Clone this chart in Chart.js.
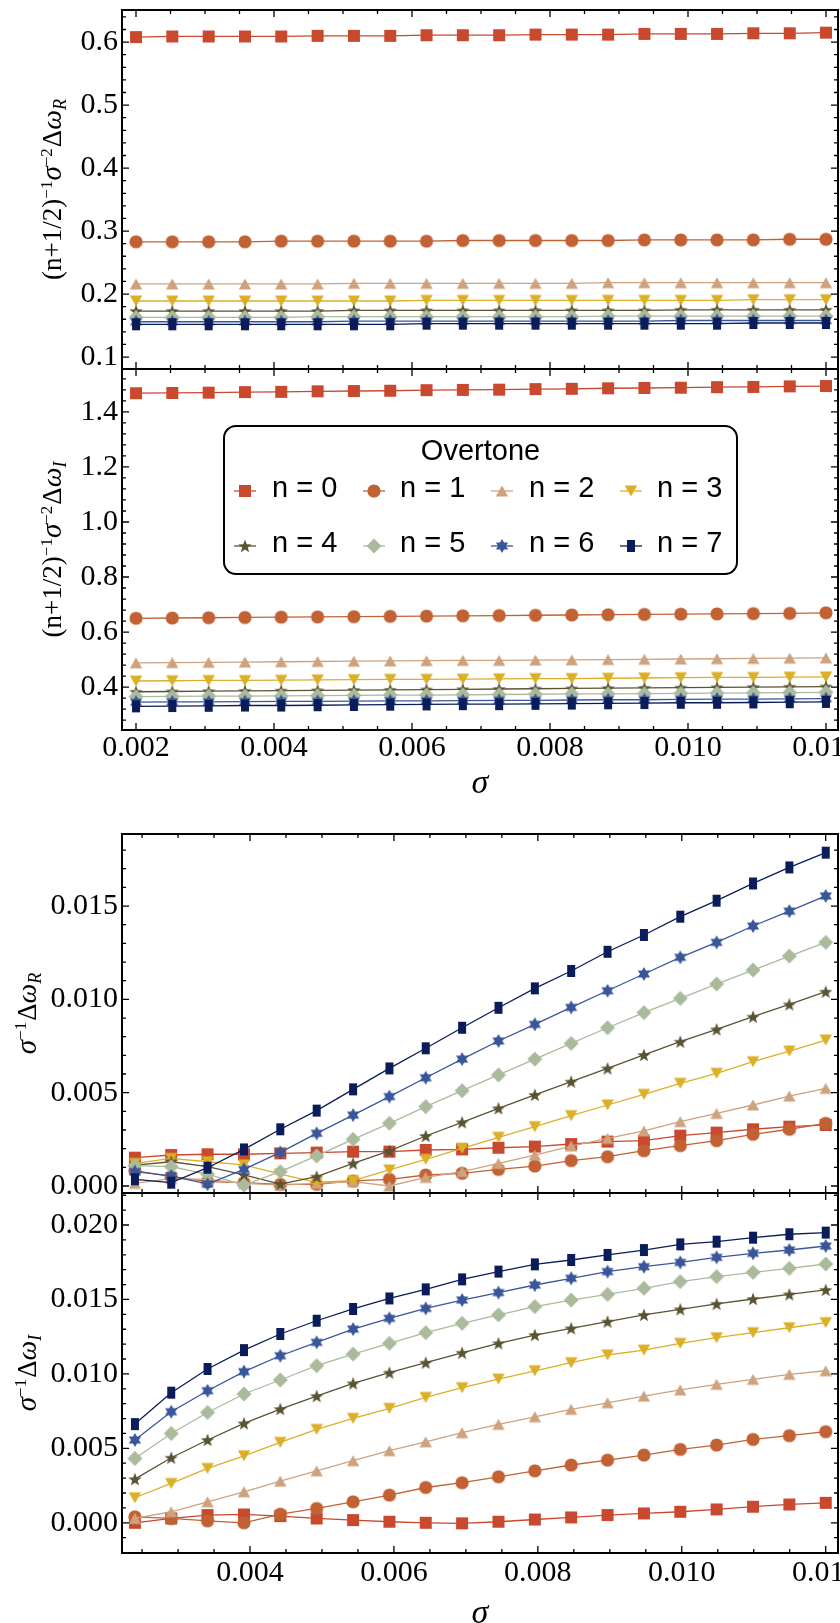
<!DOCTYPE html>
<html>
<head>
<meta charset="utf-8">
<script src="https://cdn.jsdelivr.net/npm/chart.js@4/dist/chart.umd.min.js"></script>
<style>
  html, body { margin: 0; padding: 0; background: #fff; }
  #page { position: relative; width: 840px; height: 1623px; overflow: hidden; background: #fff; }
  #page canvas { position: absolute; left: 0; }
</style>
</head>
<body>
<div id="page">
  <canvas id="c1" width="870" height="414" style="top:-20px"></canvas>
  <canvas id="c2" width="870" height="469" style="top:339px"></canvas>
  <canvas id="c3" width="870" height="414" style="top:804px"></canvas>
  <canvas id="c4" width="870" height="475" style="top:1163px"></canvas>
</div>
<script>
// overtone numbers
const OVERTONES = [0, 1, 2, 3, 4, 5, 6, 7];

// sigma grid of the upper block and of the lower block
const SIGMA_A = [0.002, 0.002526, 0.003053, 0.003579, 0.004105, 0.004632, 0.005158, 0.005684, 0.006211, 0.006737,
                 0.007263, 0.007789, 0.008316, 0.008842, 0.009368, 0.009895, 0.010421, 0.010947, 0.011474, 0.012];
const SIGMA_B = [0.0024, 0.002905, 0.00341, 0.003916, 0.004421, 0.004926, 0.005432, 0.005937, 0.006442, 0.006947,
                 0.007453, 0.007958, 0.008463, 0.008968, 0.009474, 0.009979, 0.010484, 0.01099, 0.011495, 0.012];

// (n+1/2)^-1 sigma^-2 dw_R, one row per overtone
const RE_NORM = [
  [0.608,0.609,0.609,0.609,0.609,0.610,0.610,0.610,0.611,0.611,0.611,0.612,0.612,0.612,0.613,0.613,0.613,0.614,0.614,0.615],
  [0.283,0.283,0.283,0.283,0.284,0.284,0.284,0.284,0.284,0.285,0.285,0.285,0.285,0.285,0.286,0.286,0.286,0.286,0.287,0.287],
  [0.216,0.216,0.216,0.216,0.216,0.216,0.217,0.217,0.217,0.217,0.217,0.217,0.217,0.218,0.218,0.218,0.218,0.218,0.218,0.218],
  [0.189,0.189,0.189,0.189,0.189,0.189,0.189,0.189,0.190,0.190,0.190,0.190,0.190,0.190,0.190,0.190,0.190,0.191,0.191,0.191],
  [0.173,0.173,0.173,0.173,0.173,0.173,0.174,0.174,0.174,0.174,0.174,0.174,0.174,0.174,0.174,0.175,0.175,0.175,0.175,0.175],
  [0.163,0.163,0.163,0.163,0.163,0.164,0.164,0.164,0.164,0.164,0.164,0.164,0.164,0.165,0.165,0.165,0.165,0.165,0.165,0.165],
  [0.156,0.156,0.156,0.156,0.156,0.156,0.157,0.157,0.157,0.157,0.157,0.157,0.157,0.157,0.157,0.158,0.158,0.158,0.158,0.158],
  [0.152,0.152,0.152,0.152,0.152,0.152,0.152,0.152,0.153,0.153,0.153,0.153,0.153,0.153,0.153,0.153,0.153,0.154,0.154,0.154]
];

// (n+1/2)^-1 sigma^-2 dw_I
const IM_NORM = [
  [1.468,1.469,1.470,1.472,1.473,1.475,1.476,1.477,1.479,1.480,1.481,1.483,1.484,1.486,1.487,1.488,1.490,1.491,1.493,1.494],
  [0.650,0.651,0.652,0.653,0.654,0.655,0.656,0.657,0.658,0.659,0.660,0.661,0.662,0.663,0.664,0.665,0.666,0.667,0.668,0.670],
  [0.488,0.489,0.490,0.491,0.492,0.493,0.494,0.495,0.496,0.497,0.497,0.498,0.499,0.500,0.501,0.502,0.503,0.504,0.505,0.506],
  [0.422,0.423,0.424,0.424,0.425,0.426,0.427,0.428,0.428,0.429,0.430,0.431,0.431,0.432,0.433,0.434,0.435,0.435,0.436,0.437],
  [0.383,0.384,0.385,0.386,0.387,0.388,0.389,0.390,0.391,0.392,0.393,0.394,0.395,0.396,0.397,0.398,0.399,0.400,0.401,0.402],
  [0.365,0.366,0.367,0.367,0.368,0.369,0.370,0.371,0.371,0.372,0.373,0.374,0.375,0.375,0.376,0.377,0.378,0.379,0.380,0.381],
  [0.345,0.346,0.346,0.347,0.348,0.348,0.349,0.350,0.350,0.351,0.352,0.352,0.353,0.354,0.354,0.355,0.356,0.356,0.357,0.358],
  [0.330,0.331,0.332,0.333,0.333,0.334,0.335,0.336,0.337,0.338,0.338,0.339,0.340,0.341,0.342,0.343,0.343,0.344,0.345,0.346]
];

// sigma^-1 dw_R
const RE_LIN = [
  [0.00152,0.00166,0.00170,0.00170,0.00175,0.00179,0.00184,0.00184,0.00193,0.00196,0.00205,0.00211,0.00225,0.00238,0.00243,0.00270,0.00286,0.00304,0.00318,0.00327],
  [0.00082,0.00050,0.00023,0.00018,0.00009,0.00009,0.00027,0.00036,0.00059,0.00068,0.00089,0.00107,0.00136,0.00157,0.00189,0.00216,0.00243,0.00277,0.00304,0.00336],
  [0.00014,0.00040,0.00036,0.00014,0.00005,0.00014,0.00023,0.00000,0.00046,0.00077,0.00121,0.00166,0.00214,0.00255,0.00295,0.00345,0.00389,0.00434,0.00482,0.00523],
  [0.00121,0.00148,0.00130,0.00113,0.00064,0.00020,0.00029,0.00086,0.00143,0.00202,0.00261,0.00318,0.00377,0.00434,0.00491,0.00550,0.00604,0.00666,0.00723,0.00782],
  [0.00112,0.00130,0.00104,0.00059,0.00010,0.00050,0.00121,0.00188,0.00268,0.00341,0.00416,0.00488,0.00559,0.00630,0.00702,0.00773,0.00839,0.00907,0.00973,0.01041],
  [0.00109,0.00104,0.00063,0.00005,0.00077,0.00161,0.00250,0.00336,0.00425,0.00511,0.00595,0.00680,0.00764,0.00848,0.00929,0.01005,0.01082,0.01157,0.01232,0.01305],
  [0.00077,0.00054,0.00010,0.00089,0.00180,0.00282,0.00380,0.00479,0.00580,0.00680,0.00777,0.00866,0.00957,0.01046,0.01136,0.01225,0.01305,0.01393,0.01473,0.01554],
  [0.00036,0.00018,0.00098,0.00196,0.00304,0.00404,0.00518,0.00630,0.00738,0.00848,0.00955,0.01059,0.01152,0.01255,0.01345,0.01443,0.01529,0.01621,0.01707,0.01786]
];

// sigma^-1 dw_I
const IM_LIN = [
  [0.00000,0.00029,0.00052,0.00056,0.00045,0.00029,0.00018,0.00007,0.00000,-0.00004,0.00007,0.00022,0.00036,0.00052,0.00063,0.00074,0.00090,0.00108,0.00123,0.00134],
  [0.00040,0.00029,0.00013,0.00000,0.00058,0.00096,0.00141,0.00186,0.00237,0.00269,0.00309,0.00349,0.00388,0.00421,0.00455,0.00493,0.00522,0.00560,0.00585,0.00612],
  [0.00029,0.00074,0.00141,0.00208,0.00280,0.00349,0.00417,0.00484,0.00544,0.00605,0.00661,0.00712,0.00762,0.00806,0.00851,0.00892,0.00930,0.00963,0.00997,0.01021],
  [0.00168,0.00264,0.00365,0.00450,0.00540,0.00627,0.00701,0.00768,0.00842,0.00907,0.00965,0.01021,0.01075,0.01127,0.01160,0.01205,0.01243,0.01277,0.01310,0.01344],
  [0.00293,0.00437,0.00556,0.00668,0.00764,0.00851,0.00936,0.01008,0.01075,0.01142,0.01205,0.01261,0.01306,0.01351,0.01396,0.01434,0.01470,0.01503,0.01534,0.01564],
  [0.00432,0.00600,0.00741,0.00865,0.00959,0.01055,0.01133,0.01205,0.01277,0.01340,0.01396,0.01452,0.01496,0.01534,0.01575,0.01620,0.01653,0.01682,0.01709,0.01738],
  [0.00556,0.00746,0.00887,0.01015,0.01122,0.01212,0.01301,0.01373,0.01440,0.01496,0.01546,0.01597,0.01642,0.01687,0.01720,0.01749,0.01783,0.01810,0.01832,0.01859],
  [0.00663,0.00874,0.01033,0.01160,0.01268,0.01357,0.01436,0.01507,0.01568,0.01635,0.01687,0.01736,0.01765,0.01799,0.01832,0.01870,0.01888,0.01915,0.01938,0.01949]
];

// tick labels
const X_TICKS_A = [0.002, 0.004, 0.006, 0.008, 0.010, 0.012];
const X_TICKS_B = [0.004, 0.006, 0.008, 0.010, 0.012];
const Y_TICKS_1 = [0.1, 0.2, 0.3, 0.4, 0.5, 0.6];
const Y_TICKS_2 = [0.4, 0.6, 0.8, 1.0, 1.2, 1.4];
const Y_TICKS_3 = [0, 0.005, 0.010, 0.015];
const Y_TICKS_4 = [0, 0.005, 0.010, 0.015, 0.020];

const COLORS = ['#c9492f', '#c26234', '#cfa27e', '#dcaf28', '#5a5332', '#aabb9d', '#39569b', '#0b1c5a'];
const SHAPES = ['square', 'circle', 'triUp', 'triDown', 'star5', 'diamond', 'star6', 'tallRect'];
const SERIF = '"Liberation Serif", "Times New Roman", serif';
const SANS = '"Liberation Sans", Arial, sans-serif';

function starPath(g, pts, rOut, rIn) {
  for (let i = 0; i < pts * 2; i++) {
    const r = i % 2 ? rIn : rOut;
    const a = -Math.PI / 2 + i * Math.PI / pts;
    if (i === 0) g.moveTo(r * Math.cos(a), r * Math.sin(a));
    else g.lineTo(r * Math.cos(a), r * Math.sin(a));
  }
  g.closePath();
}

function makeMarker(shape, color) {
  const c = document.createElement('canvas');
  c.width = 18; c.height = 18;
  const g = c.getContext('2d');
  g.translate(9, 9);
  g.fillStyle = color;
  g.beginPath();
  if (shape === 'square') g.rect(-6, -6, 12, 12);
  else if (shape === 'circle') g.arc(0, 0, 6.6, 0, Math.PI * 2);
  else if (shape === 'triUp') { g.moveTo(0, -5.6); g.lineTo(6.2, 5.4); g.lineTo(-6.2, 5.4); g.closePath(); }
  else if (shape === 'triDown') { g.moveTo(0, 5.6); g.lineTo(6.2, -5.4); g.lineTo(-6.2, -5.4); g.closePath(); }
  else if (shape === 'star5') { g.translate(0, 0.6); starPath(g, 5, 7, 2.9); }
  else if (shape === 'diamond') { g.moveTo(0, -7.5); g.lineTo(7.5, 0); g.lineTo(0, 7.5); g.lineTo(-7.5, 0); g.closePath(); }
  else if (shape === 'star6') starPath(g, 6, 7, 4);
  else g.rect(-4, -6, 8, 12);
  g.fill();
  return c;
}
const MARKERS = SHAPES.map((s, k) => makeMarker(s, COLORS[k]));

function tickMarks(min, max, majors, step) {
  const out = majors.filter(v => v >= min && v <= max).map(v => [v, true]);
  for (let k = Math.ceil(min / step - 1e-9); k * step <= max + 1e-12; k++) {
    const v = k * step;
    if (!majors.some(m => Math.abs(m - v) < step * 1e-3)) out.push([v, false]);
  }
  return out;
}

// Mathematica-style frame with inward ticks on all four sides
const framePlugin = {
  id: 'frame',
  afterDatasetsDraw(chart, args, o) {
    const {ctx, chartArea: a, scales: {x, y}} = chart;
    ctx.save();
    ctx.strokeStyle = '#000';
    ctx.lineWidth = 1.3;
    ctx.beginPath();
    tickMarks(x.min, x.max, o.xTicks, o.xMinor).forEach(([v, major]) => {
      const px = x.getPixelForValue(v), len = major ? 7 : 4;
      ctx.moveTo(px, a.bottom); ctx.lineTo(px, a.bottom - len);
      ctx.moveTo(px, a.top); ctx.lineTo(px, a.top + len);
    });
    tickMarks(y.min, y.max, o.yTicks, o.yMinor).forEach(([v, major]) => {
      const py = y.getPixelForValue(v), len = major ? 7 : 4;
      ctx.moveTo(a.left, py); ctx.lineTo(a.left + len, py);
      ctx.moveTo(a.right, py); ctx.lineTo(a.right - len, py);
    });
    ctx.stroke();
    ctx.lineWidth = 2;
    ctx.strokeRect(a.left, a.top, a.right - a.left, a.bottom - a.top);
    ctx.restore();
  }
};

// rotated y title with super/subscripts
const yTitlePlugin = {
  id: 'yTitle',
  afterDraw(chart, args, o) {
    const {ctx, chartArea: a} = chart;
    const fontOf = p => (p.italic ? 'italic ' : '') + p.size + 'px ' + SERIF;
    ctx.save();
    ctx.translate(o.baseX, (a.top + a.bottom) / 2);
    ctx.rotate(-Math.PI / 2);
    ctx.fillStyle = '#000';
    ctx.textBaseline = 'alphabetic';
    let total = 0;
    const widths = o.parts.map(p => { ctx.font = fontOf(p); const w = ctx.measureText(p.t).width + (p.gap || 0); total += w; return w; });
    let cx = -total / 2;
    o.parts.forEach((p, i) => { ctx.font = fontOf(p); ctx.fillText(p.t, cx, -(p.rise || 0)); cx += widths[i]; });
    ctx.restore();
  }
};

// boxed "Overtone" legend, two rows of four
const legendPlugin = {
  id: 'overtoneLegend',
  afterDraw(chart, args, o) {
    if (!o.show) return;
    const {ctx, chartArea: a} = chart;
    const x0 = a.left + 102, y0 = a.top + 57, w = 513, h = 148;
    ctx.save();
    ctx.beginPath();
    ctx.roundRect(x0, y0, w, h, 12);
    ctx.fillStyle = '#fff';
    ctx.fill();
    ctx.lineWidth = 2;
    ctx.strokeStyle = '#000';
    ctx.stroke();
    ctx.fillStyle = '#000';
    ctx.font = '29px ' + SANS;
    ctx.textAlign = 'center';
    ctx.textBaseline = 'middle';
    ctx.fillText('Overtone', x0 + w / 2, y0 + 26);
    ctx.textAlign = 'left';
    const markerX = [21, 150, 278, 407], textX = [48, 176, 305, 433], rowY = [63, 118];
    chart.data.datasets.forEach((ds, k) => {
      const col = k % 4, row = Math.floor(k / 4);
      const mx = x0 + markerX[col], my = y0 + rowY[row] + 2;
      ctx.strokeStyle = ds.borderColor;
      ctx.lineWidth = 1.3;
      ctx.beginPath(); ctx.moveTo(mx - 11, my); ctx.lineTo(mx + 11, my); ctx.stroke();
      const m = ds.pointStyle;
      ctx.drawImage(m, mx - m.width / 2, my - m.height / 2);
      ctx.fillStyle = '#000';
      ctx.fillText(ds.label, x0 + textX[col], y0 + rowY[row]);
    });
    ctx.restore();
  }
};

const titleR = [
  {t: '(n+1/2)', size: 27}, {t: '\u22121', size: 17, rise: 9},
  {t: '\u03c3', size: 29, italic: true}, {t: '\u22122', size: 17, rise: 9, gap: 1},
  {t: '\u0394', size: 27}, {t: '\u03c9', size: 28, italic: true}, {t: 'R', size: 18, italic: true, rise: -5}
];
const titleI = titleR.slice(0, 6).concat([{t: 'I', size: 18, italic: true, rise: -5}]);
const titleRl = [
  {t: '\u03c3', size: 29, italic: true}, {t: '\u22121', size: 17, rise: 10, gap: 1},
  {t: '\u0394', size: 27}, {t: '\u03c9', size: 28, italic: true}, {t: 'R', size: 18, italic: true, rise: -5}
];
const titleIl = titleRl.slice(0, 4).concat([{t: 'I', size: 18, italic: true, rise: -5}]);

function makePanel(id, c) {
  return new Chart(document.getElementById(id), {
    type: 'line',
    data: {
      datasets: OVERTONES.map((n, k) => ({
        label: 'n = ' + n,
        data: c.xs.map((x, i) => ({x: x, y: c.ys[k][i]})),
        borderColor: COLORS[k],
        borderWidth: 1.3,
        pointStyle: MARKERS[k],
        pointRadius: 6,
        pointHoverRadius: 6,
        tension: 0,
        order: 7 - k,
        clip: 10
      }))
    },
    options: {
      responsive: false,
      animation: false,
      events: [],
      layout: {padding: {top: 30, bottom: c.padBottom, left: 0, right: 32}},
      plugins: {
        legend: {display: false},
        tooltip: {enabled: false},
        frame: {xTicks: c.xTicks, xMinor: 0.0005, yTicks: c.yTicks, yMinor: c.yMinor},
        yTitle: {parts: c.title, baseX: c.titleX},
        overtoneLegend: {show: !!c.legend}
      },
      scales: {
        x: {
          type: 'linear', min: c.xMin, max: c.xMax, display: c.xLabels,
          grid: {display: false, drawTicks: false}, border: {display: false},
          afterBuildTicks: s => { s.ticks = c.xTicks.map(v => ({value: v})); },
          afterFit: s => { s.height = c.xAxisH || 0; },
          ticks: {font: {family: SERIF, size: 30}, color: '#000', padding: c.xPad || 0,
                  maxRotation: 0, minRotation: 0, autoSkip: false, callback: v => v.toFixed(3)},
          title: {display: true, text: '\u03c3', color: '#000', padding: 4,
                  font: {family: SERIF, size: 34, style: 'italic'}}
        },
        y: {
          type: 'linear', min: c.yMin, max: c.yMax,
          grid: {display: false, drawTicks: false}, border: {display: false},
          afterBuildTicks: s => { s.ticks = c.yTicks.map(v => ({value: v})); },
          afterFit: s => { s.width = 122; },
          ticks: {font: {family: SERIF, size: 30}, color: '#000', padding: 4, autoSkip: false,
                  callback: v => v.toFixed(c.yDigits)}
        }
      }
    },
    plugins: [framePlugin, yTitlePlugin, legendPlugin]
  });
}

makePanel('c1', {xs: SIGMA_A, ys: RE_NORM, xMin: 0.001797, xMax: 0.012174, xTicks: X_TICKS_A, xLabels: false,
  padBottom: 25, yMin: 0.081, yMax: 0.651, yTicks: Y_TICKS_1, yMinor: 0.02, yDigits: 1, title: titleR, titleX: 61});
makePanel('c2', {xs: SIGMA_A, ys: IM_NORM, xMin: 0.001797, xMax: 0.012174, xTicks: X_TICKS_A, xLabels: true,
  xAxisH: 78, xPad: 0, padBottom: 0, yMin: 0.244, yMax: 1.556, yTicks: Y_TICKS_2, yMinor: 0.04, yDigits: 1,
  title: titleI, titleX: 61, legend: true});
makePanel('c3', {xs: SIGMA_B, ys: RE_LIN, xMin: 0.002221, xMax: 0.012171, xTicks: X_TICKS_B, xLabels: false,
  padBottom: 25, yMin: -0.000375, yMax: 0.01886, yTicks: Y_TICKS_3, yMinor: 0.001, yDigits: 3, title: titleRl, titleX: 36});
makePanel('c4', {xs: SIGMA_B, ys: IM_LIN, xMin: 0.002221, xMax: 0.012171, xTicks: X_TICKS_B, xLabels: true,
  xAxisH: 85, xPad: 2, padBottom: 0, yMin: -0.00203, yMax: 0.02215, yTicks: Y_TICKS_4, yMinor: 0.001, yDigits: 3,
  title: titleIl, titleX: 36});
</script>
</body>
</html>
